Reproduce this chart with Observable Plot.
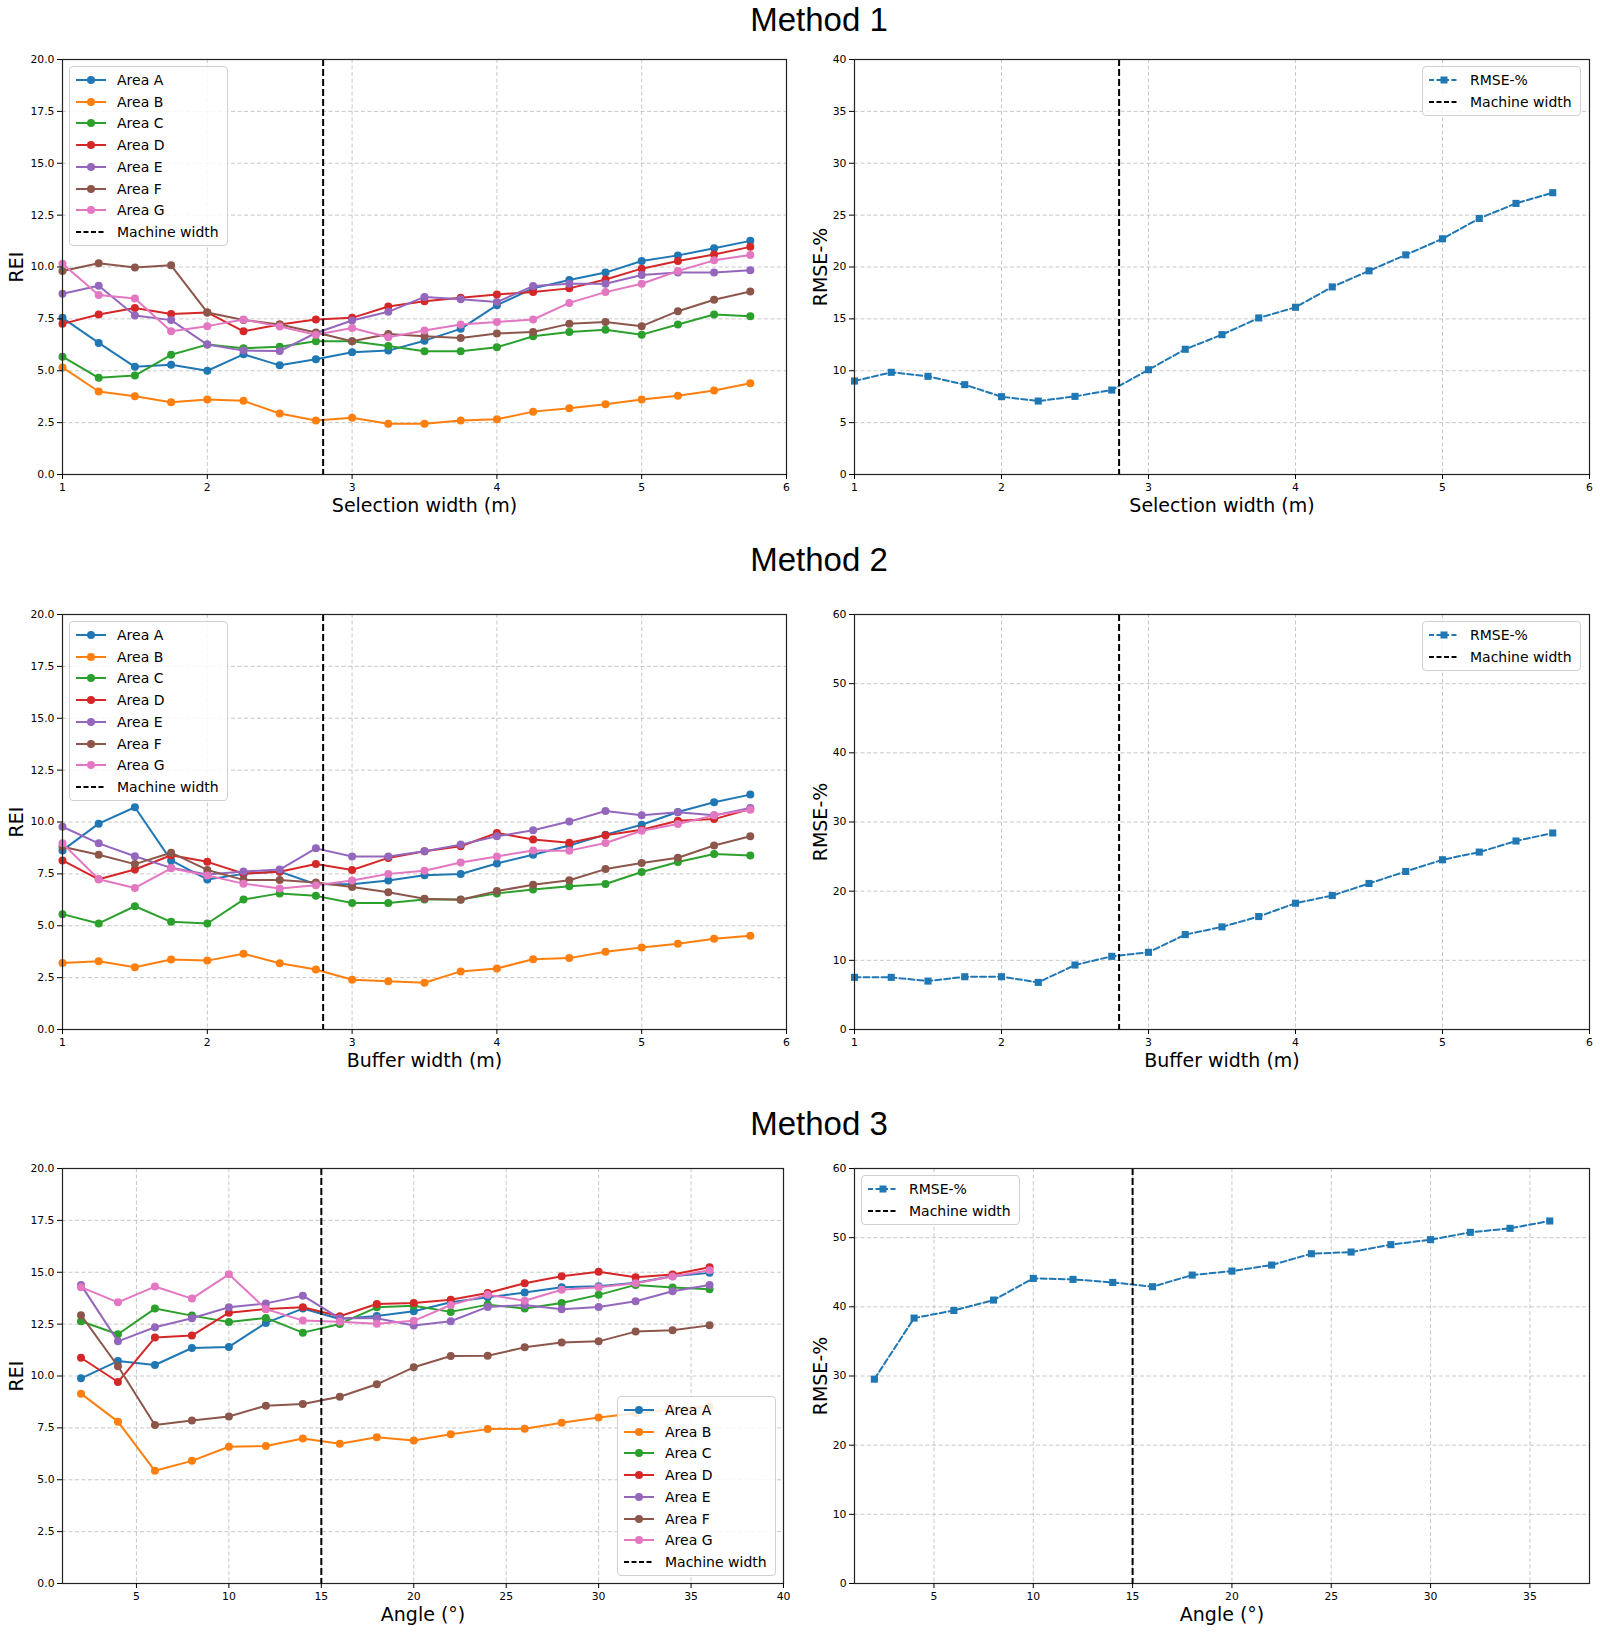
<!DOCTYPE html>
<html>
<head>
<meta charset="utf-8">
<script src="https://cdn.jsdelivr.net/npm/d3@7"></script>
<script src="https://cdn.jsdelivr.net/npm/@observablehq/plot@0.6"></script>
<style>
  html, body { margin: 0; padding: 0; background: #fff; }
  #fig { position: relative; width: 1600px; height: 1634px; overflow: hidden; background: #fff; font-family: "DejaVu Sans", sans-serif; }
  .panel { position: absolute; }
  .panel svg { overflow: visible; }
  .title { position: absolute; left: 0; width: 1638px; text-align: center; font-family: "Liberation Sans", Arial, sans-serif; font-size: 33px; height: 40px; line-height: 40px; color: #000; }
  .legend { position: absolute; box-sizing: border-box; background: rgba(255,255,255,0.85); border: 1px solid #d0d0d0; border-radius: 4px; padding: 2px 0 2px 6px; font-family: "DejaVu Sans", sans-serif; font-size: 14px; color: #000; }
  .legend .row { height: 21.75px; display: flex; align-items: center; white-space: nowrap; }
  .legend .row svg { width: 30px; height: 14px; margin-right: 11px; flex: none; }
</style>
</head>
<body>
<div id="fig"></div>
<script>
// ---------- data ----------
const widths = [1, 1.25, 1.5, 1.75, 2, 2.25, 2.5, 2.75, 3, 3.25, 3.5, 3.75, 4, 4.25, 4.5, 4.75, 5, 5.25, 5.5, 5.75];
const angles = [2, 4, 6, 8, 10, 12, 14, 16, 18, 20, 22, 24, 26, 28, 30, 32, 34, 36];

const areaNames = ["Area A", "Area B", "Area C", "Area D", "Area E", "Area F", "Area G"];
const areaColors = ["#1f77b4", "#ff7f0e", "#2ca02c", "#d62728", "#9467bd", "#8c564b", "#e377c2"];

// Method 1 (selection width)
const m1AreaA = [7.55, 6.34, 5.19, 5.29, 5.00, 5.79, 5.26, 5.55, 5.89, 5.97, 6.45, 7.02, 8.16, 8.97, 9.37, 9.73, 10.29, 10.56, 10.90, 11.26];
const m1AreaB = [5.16, 4.00, 3.77, 3.48, 3.61, 3.55, 2.94, 2.60, 2.74, 2.45, 2.44, 2.60, 2.66, 3.03, 3.19, 3.39, 3.61, 3.79, 4.05, 4.40];
const m1AreaC = [5.68, 4.66, 4.77, 5.77, 6.26, 6.08, 6.16, 6.42, 6.42, 6.19, 5.94, 5.94, 6.13, 6.66, 6.87, 6.98, 6.74, 7.23, 7.71, 7.63];
const m1AreaD = [7.26, 7.71, 8.02, 7.73, 7.81, 6.90, 7.23, 7.47, 7.55, 8.10, 8.35, 8.52, 8.68, 8.79, 8.97, 9.40, 9.92, 10.29, 10.60, 10.97];
const m1AreaE = [8.71, 9.10, 7.66, 7.44, 6.26, 5.97, 5.95, 6.82, 7.42, 7.84, 8.56, 8.44, 8.31, 9.08, 9.19, 9.19, 9.61, 9.73, 9.74, 9.84];
const m1AreaF = [9.81, 10.18, 9.98, 10.08, 7.81, 7.45, 7.23, 6.84, 6.42, 6.77, 6.66, 6.58, 6.79, 6.87, 7.26, 7.35, 7.15, 7.87, 8.42, 8.82];
const m1AreaG = [10.16, 8.65, 8.48, 6.90, 7.15, 7.47, 7.13, 6.73, 7.06, 6.61, 6.94, 7.23, 7.35, 7.47, 8.27, 8.79, 9.19, 9.81, 10.32, 10.58];
const m1Rmse = [9.01, 9.85, 9.46, 8.66, 7.50, 7.08, 7.53, 8.14, 10.10, 12.07, 13.48, 15.09, 16.12, 18.08, 19.63, 21.17, 22.72, 24.68, 26.13, 27.16];

// Method 2 (buffer width)
const m2AreaA = [8.63, 9.92, 10.71, 8.15, 7.23, 7.50, 7.61, 7.00, 7.00, 7.18, 7.43, 7.49, 8.00, 8.42, 8.87, 9.39, 9.87, 10.48, 10.95, 11.32];
const m2AreaB = [3.21, 3.29, 3.00, 3.37, 3.32, 3.65, 3.19, 2.89, 2.40, 2.32, 2.25, 2.80, 2.94, 3.39, 3.44, 3.75, 3.95, 4.13, 4.37, 4.52];
const m2AreaC = [5.56, 5.11, 5.94, 5.19, 5.11, 6.26, 6.56, 6.44, 6.10, 6.10, 6.27, 6.27, 6.56, 6.75, 6.90, 7.01, 7.59, 8.07, 8.46, 8.39];
const m2AreaD = [8.15, 7.24, 7.71, 8.40, 8.08, 7.52, 7.60, 7.98, 7.69, 8.27, 8.59, 8.83, 9.47, 9.16, 9.00, 9.36, 9.63, 10.06, 10.14, 10.63];
const m2AreaE = [9.77, 8.97, 8.35, 7.79, 7.47, 7.61, 7.71, 8.73, 8.34, 8.34, 8.59, 8.91, 9.31, 9.60, 10.02, 10.53, 10.32, 10.47, 10.32, 10.68];
const m2AreaF = [8.81, 8.42, 7.97, 8.52, 7.69, 7.21, 7.21, 7.08, 6.87, 6.61, 6.30, 6.25, 6.67, 6.98, 7.19, 7.73, 8.02, 8.28, 8.87, 9.31];
const m2AreaG = [8.97, 7.24, 6.82, 7.77, 7.42, 7.03, 6.79, 6.95, 7.18, 7.50, 7.65, 8.05, 8.34, 8.63, 8.62, 8.99, 9.58, 9.90, 10.32, 10.59];
const m2Rmse = [7.54, 7.54, 7.00, 7.63, 7.63, 6.81, 9.32, 10.58, 11.16, 13.72, 14.83, 16.33, 18.26, 19.37, 21.11, 22.85, 24.54, 25.65, 27.25, 28.41];

// Method 3 (angle)
const m3AreaA = [9.89, 10.72, 10.53, 11.35, 11.40, 12.56, 13.25, 12.75, 12.89, 13.12, 13.55, 13.79, 14.02, 14.28, 14.32, 14.49, 14.81, 14.97];
const m3AreaB = [9.15, 7.80, 5.43, 5.91, 6.59, 6.63, 6.99, 6.73, 7.05, 6.89, 7.19, 7.44, 7.46, 7.75, 8.00, 8.20, 8.38, 8.54];
const m3AreaC = [12.64, 12.01, 13.25, 12.91, 12.60, 12.80, 12.09, 12.51, 13.31, 13.39, 13.09, 13.44, 13.25, 13.52, 13.91, 14.39, 14.26, 14.18];
const m3AreaD = [10.88, 9.71, 11.85, 11.95, 13.05, 13.23, 13.31, 12.88, 13.47, 13.52, 13.67, 14.00, 14.47, 14.81, 15.02, 14.76, 14.89, 15.24];
const m3AreaE = [14.39, 11.67, 12.35, 12.78, 13.31, 13.50, 13.87, 12.78, 12.78, 12.43, 12.64, 13.33, 13.42, 13.22, 13.33, 13.60, 14.08, 14.39];
const m3AreaF = [12.93, 10.47, 7.64, 7.86, 8.05, 8.57, 8.65, 9.00, 9.60, 10.42, 10.96, 10.98, 11.38, 11.61, 11.67, 12.14, 12.20, 12.44];
const m3AreaG = [14.28, 13.55, 14.31, 13.73, 14.90, 13.23, 12.67, 12.62, 12.52, 12.66, 13.42, 13.92, 13.63, 14.16, 14.28, 14.47, 14.79, 15.10];
const m3Rmse = [29.54, 38.37, 39.48, 40.98, 44.11, 43.97, 43.53, 42.91, 44.59, 45.17, 46.04, 47.68, 47.92, 48.99, 49.71, 50.77, 51.35, 52.41];

const machineWidths = [2.8, 2.8, 15];
const methodTitles = ["Method 1", "Method 2", "Method 3"];
const xLabels = ["Selection width (m)", "Buffer width (m)", "Angle (°)"];

const reiTicks = [0, 2.5, 5, 7.5, 10, 12.5, 15, 17.5, 20];
const widthTicks = [1, 2, 3, 4, 5, 6];
const angleTicksLeft = [5, 10, 15, 20, 25, 30, 35, 40];
const angleTicksRight = [5, 10, 15, 20, 25, 30, 35];
const rmseTicks1 = [0, 5, 10, 15, 20, 25, 30, 35, 40];
const rmseTicks23 = [0, 10, 20, 30, 40, 50, 60];

const rmseColor = "#1f77b4";

// ---------- helpers ----------
const fig = document.getElementById("fig");
const FONT = "'DejaVu Sans', sans-serif";

function makeChart(o) {
  const marks = [
    Plot.gridX({ticks: o.xTicks, stroke: "#b0b0b0", strokeOpacity: 0.7, strokeDasharray: "4,2.5", strokeWidth: 1}),
    Plot.gridY({ticks: o.yTicks, stroke: "#b0b0b0", strokeOpacity: 0.7, strokeDasharray: "4,2.5", strokeWidth: 1})
  ];
  o.series.forEach(s => {
    const data = o.xs.map((x, i) => ({x, y: s.values[i]}));
    marks.push(Plot.line(data, {x: "x", y: "y", stroke: s.color, strokeWidth: 2, strokeDasharray: s.dash || null}));
    marks.push(Plot.dot(data, {x: "x", y: "y", fill: s.color, r: 4, symbol: s.symbol || "circle"}));
  });
  marks.push(Plot.ruleX([o.machine], {stroke: "black", strokeWidth: 2, strokeDasharray: "7,3"}));
  marks.push(Plot.frame({stroke: "#222", strokeWidth: 1.2}));
  marks.push(Plot.axisX({ticks: o.xTicks, tickFormat: o.xFmt, tickSize: 5, tickPadding: 4, label: null}));
  marks.push(Plot.axisY({ticks: o.yTicks, tickFormat: o.yFmt, tickSize: 5, tickPadding: 3, label: null}));
  marks.push(Plot.text([o.xlabel], {text: d => d, frameAnchor: "bottom", lineAnchor: "middle", textAnchor: "middle", dy: 31, fontSize: 19, fill: "black"}));
  marks.push(Plot.text([o.ylabel], {text: d => d, frameAnchor: "left", lineAnchor: "middle", textAnchor: "middle", dx: -o.ylabelOffset, rotate: -90, fontSize: 19, fill: "black"}));
  const svg = Plot.plot({
    width: o.width,
    height: 12 + 415 + 50,
    marginTop: 12,
    marginBottom: 50,
    marginLeft: o.ml,
    marginRight: o.mr,
    x: {domain: o.xDomain},
    y: {domain: o.yDomain},
    style: {fontFamily: FONT, fontSize: "10.8px", color: "#000", background: "transparent", overflow: "visible"},
    marks
  });
  const div = document.createElement("div");
  div.className = "panel";
  div.style.left = o.left + "px";
  div.style.top = (o.frameTop - 12) + "px";
  div.appendChild(svg);
  fig.appendChild(div);
}

function sampleSvg(entry) {
  const ns = "http://www.w3.org/2000/svg";
  const svg = document.createElementNS(ns, "svg");
  svg.setAttribute("viewBox", "0 0 30 14");
  const line = document.createElementNS(ns, "line");
  line.setAttribute("x1", 0); line.setAttribute("x2", 30);
  line.setAttribute("y1", 7); line.setAttribute("y2", 7);
  line.setAttribute("stroke", entry.color);
  line.setAttribute("stroke-width", 2);
  if (entry.dash) line.setAttribute("stroke-dasharray", entry.dash);
  svg.appendChild(line);
  if (entry.symbol === "circle") {
    const c = document.createElementNS(ns, "circle");
    c.setAttribute("cx", 15); c.setAttribute("cy", 7); c.setAttribute("r", 4);
    c.setAttribute("fill", entry.color);
    svg.appendChild(c);
  } else if (entry.symbol === "square") {
    const r = document.createElementNS(ns, "rect");
    r.setAttribute("x", 11.5); r.setAttribute("y", 3.5); r.setAttribute("width", 7); r.setAttribute("height", 7);
    r.setAttribute("fill", entry.color);
    svg.appendChild(r);
  }
  return svg;
}

function makeLegend(pos, entries) {
  const box = document.createElement("div");
  box.className = "legend";
  box.style.width = "159px";
  if (pos.left != null) box.style.left = pos.left + "px";
  if (pos.top != null) box.style.top = pos.top + "px";
  if (pos.bottom != null) box.style.top = (pos.bottom - (entries.length * 21.75 + 6)) + "px";
  if (pos.right != null) box.style.left = (pos.right - 159) + "px";
  entries.forEach(e => {
    const row = document.createElement("div");
    row.className = "row";
    row.appendChild(sampleSvg(e));
    const span = document.createElement("span");
    span.textContent = e.label;
    row.appendChild(span);
    box.appendChild(row);
  });
  fig.appendChild(box);
}

// ---------- layout ----------
const frameTops = [59, 614, 1168];
const titleCenters = [20, 560, 1124];
const areaSets = [
  [m1AreaA, m1AreaB, m1AreaC, m1AreaD, m1AreaE, m1AreaF, m1AreaG],
  [m2AreaA, m2AreaB, m2AreaC, m2AreaD, m2AreaE, m2AreaF, m2AreaG],
  [m3AreaA, m3AreaB, m3AreaC, m3AreaD, m3AreaE, m3AreaF, m3AreaG]
];
const rmseSets = [m1Rmse, m2Rmse, m3Rmse];

const areaLegend = areaNames.map((n, i) => ({label: n, color: areaColors[i], symbol: "circle"}))
  .concat([{label: "Machine width", color: "black", dash: "5,2.5"}]);
const rmseLegend = [
  {label: "RMSE-%", color: rmseColor, symbol: "square", dash: "5,2.5"},
  {label: "Machine width", color: "black", dash: "5,2.5"}
];

for (let m = 0; m < 3; m++) {
  const t = document.createElement("div");
  t.className = "title";
  t.textContent = methodTitles[m];
  t.style.top = (titleCenters[m] - 20) + "px";
  fig.appendChild(t);

  const isAngle = m === 2;
  const xs = isAngle ? angles : widths;

  makeChart({
    left: 0, width: 800, ml: 62, mr: isAngle ? 17 : 14,
    frameTop: frameTops[m],
    xs,
    xDomain: isAngle ? [1, 40] : [1, 6],
    xTicks: isAngle ? angleTicksLeft : widthTicks,
    xFmt: d3.format("d"),
    yDomain: [0, 20],
    yTicks: reiTicks,
    yFmt: d3.format(".1f"),
    series: areaSets[m].map((vals, i) => ({values: vals, color: areaColors[i]})),
    machine: machineWidths[m],
    xlabel: xLabels[m],
    ylabel: "REI",
    ylabelOffset: 46
  });

  makeChart({
    left: 800, width: 800, ml: 54, mr: 11,
    frameTop: frameTops[m],
    xs,
    xDomain: isAngle ? [1, 38] : [1, 6],
    xTicks: isAngle ? angleTicksRight : widthTicks,
    xFmt: d3.format("d"),
    yDomain: m === 0 ? [0, 40] : [0, 60],
    yTicks: m === 0 ? rmseTicks1 : rmseTicks23,
    yFmt: d3.format("d"),
    series: [{values: rmseSets[m], color: rmseColor, symbol: "square", dash: "6,3"}],
    machine: machineWidths[m],
    xlabel: xLabels[m],
    ylabel: "RMSE-%",
    ylabelOffset: 34
  });

  // legends
  if (m < 2) {
    makeLegend({left: 69, top: frameTops[m] + 7}, areaLegend);
    makeLegend({right: 1581, top: frameTops[m] + 7}, rmseLegend);
  } else {
    makeLegend({right: 776, bottom: 1576}, areaLegend);
    makeLegend({left: 861, top: frameTops[m] + 7}, rmseLegend);
  }
}
</script>
</body>
</html>
